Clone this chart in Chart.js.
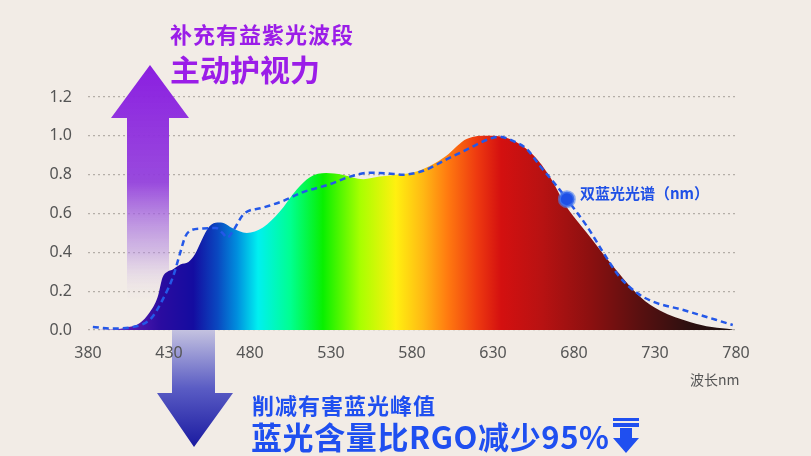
<!DOCTYPE html>
<html>
<head>
<meta charset="utf-8">
<script src="https://cdn.jsdelivr.net/npm/chart.js@4.4.1/dist/chart.umd.min.js"></script>
<style>
  body { margin: 0; background: #f2ece6; }
  #wrap { position: relative; width: 811px; height: 456px; overflow: hidden; background: #f2ece6; }
  #chart { position: absolute; left: 0; top: 0; }
  .txt { position: absolute; white-space: nowrap; font-family: "Noto Sans CJK SC", sans-serif; line-height: 1; }
  #t1 { left: 170px; top: 22px; font-size: 22px; color: #9b1de8; font-weight: 600; letter-spacing: 1px; }
  #t2 { left: 170px; top: 53px; font-size: 30px; color: #9b1de8; font-weight: 700; }
  #b1 { left: 252px; top: 393px; font-size: 22px; color: #1f4ff0; font-weight: 600; letter-spacing: 1px; }
  #b2 { left: 251px; top: 420px; font-size: 31px; color: #1f4ff0; font-weight: 700; letter-spacing: 0.6px; }
  #leg { left: 580px; top: 185px; font-size: 15px; color: #1f50e6; font-weight: 600; }
  #unit { left: 690px; top: 372px; font-size: 14px; color: #555; font-family: "Noto Sans CJK SC", "Noto Sans", sans-serif; }
  #icon { position: absolute; left: 612px; top: 417px; }
</style>
</head>
<body>
<div id="wrap">
  <canvas id="chart" width="811" height="456"></canvas>
  <div class="txt" id="t1">补充有益紫光波段</div>
  <div class="txt" id="t2">主动护视力</div>
  <div class="txt" id="b1">削减有害蓝光峰值</div>
  <div class="txt" id="b2">蓝光含量比RGO减少95%</div>
  <div class="txt" id="leg">双蓝光光谱（nm）</div>
  <div class="txt" id="unit">波长nm</div>
  <svg id="icon" width="28" height="37" viewBox="0 0 28 37">
    <rect x="1" y="1" width="26" height="3" fill="#1f4ff0"/>
    <rect x="1" y="6" width="26" height="4" fill="#1f4ff0"/>
    <polygon points="8,11 20,11 20,21 27,21 14,36 1,21 8,21" fill="#1f4ff0"/>
  </svg>
</div>
<script>
// x ticks / y ticks
const xTicks = [380, 430, 480, 530, 580, 630, 680, 730, 780];
const yTicks = [0.0, 0.2, 0.4, 0.6, 0.8, 1.0, 1.2];

// rainbow filled spectrum (wavelength nm, relative intensity)
const fillNm  = [385, 395, 405, 412, 418, 423, 426, 429, 432, 437, 442, 446, 450, 455, 460, 464, 469, 478, 488, 498, 509, 517, 527, 537, 550, 560, 570, 580, 591, 601, 614, 627, 640, 655, 665, 675, 688, 704, 721, 733, 752, 765, 778];
const fillVal = [0, 0.002, 0.015, 0.036, 0.09, 0.17, 0.27, 0.30, 0.31, 0.337, 0.35, 0.39, 0.46, 0.534, 0.554, 0.55, 0.525, 0.50, 0.528, 0.606, 0.725, 0.787, 0.808, 0.80, 0.777, 0.79, 0.80, 0.81, 0.845, 0.896, 0.985, 1.0, 0.985, 0.90, 0.79, 0.64, 0.50, 0.33, 0.17, 0.10, 0.04, 0.015, 0.003];

// dashed "双蓝光光谱" series
const dashNm  = [383, 394, 408, 419, 426, 432.5, 437, 440, 444, 451, 459, 463, 466, 469.5, 476, 488, 500, 512.7, 529, 541.7, 554, 564.6, 574.5, 587, 601.6, 614, 628, 634, 642, 651, 659, 669.5, 675.6, 688, 698, 708, 719, 729, 747, 778];
const dashVal = [0.016, 0.008, 0.016, 0.06, 0.155, 0.275, 0.40, 0.48, 0.515, 0.523, 0.525, 0.50, 0.476, 0.51, 0.596, 0.63, 0.663, 0.71, 0.75, 0.79, 0.81, 0.807, 0.80, 0.82, 0.88, 0.93, 0.985, 0.995, 0.975, 0.93, 0.845, 0.74, 0.674, 0.534, 0.40, 0.275, 0.19, 0.145, 0.104, 0.026];
const markerNm = 675.6;

// colour stops of the rainbow fill
const rainbow = [
  [385, '#8a50c8'], [405, '#5a1cb0'], [425, '#2a0ca0'], [445, '#140ca0'],
  [460, '#0a48c0'], [472, '#008ede'], [485, '#00f0f0'], [505, '#00ff90'],
  [525, '#08f000'], [548, '#a8ff00'], [570, '#fff010'], [587, '#ffb814'],
  [602, '#ff7a10'], [620, '#ee3a10'], [635, '#d41010'], [660, '#b81212'],
  [690, '#8c1010'], [720, '#5a1010'], [750, '#2e1010'], [780, '#1c1010']
];

function spectrumFill(ctx) {
  const chart = ctx.chart;
  const area = chart.chartArea;
  if (!area) return '#888';
  const x = chart.scales.x;
  const g = chart.ctx.createLinearGradient(x.getPixelForValue(380), 0, x.getPixelForValue(780), 0);
  rainbow.forEach(([nm, c]) => g.addColorStop((nm - 380) / 400, c));
  return g;
}

// decorative arrows, drawn over the grid but under the data
const arrows = {
  id: 'arrows',
  beforeDatasetsDraw(chart) {
    const c = chart.ctx;
    c.save();
    // up arrow
    let g = c.createLinearGradient(0, 65, 0, 300);
    g.addColorStop(0, '#8a1ee0');
    g.addColorStop(0.5, 'rgba(145,60,220,0.92)');
    g.addColorStop(0.8, 'rgba(180,140,225,0.5)');
    g.addColorStop(1, 'rgba(230,220,235,0)');
    c.fillStyle = g;
    c.beginPath();
    c.moveTo(150, 65);
    c.lineTo(189, 118);
    c.lineTo(169, 118);
    c.lineTo(169, 300);
    c.lineTo(127, 300);
    c.lineTo(127, 118);
    c.lineTo(111, 118);
    c.closePath();
    c.fill();
    // down arrow
    g = c.createLinearGradient(0, 330, 0, 447);
    g.addColorStop(0, '#c4c2e0');
    g.addColorStop(0.5, '#5a5cc4');
    g.addColorStop(1, '#1a1aa0');
    c.fillStyle = g;
    c.beginPath();
    c.moveTo(172, 330);
    c.lineTo(215, 330);
    c.lineTo(215, 393);
    c.lineTo(233, 393);
    c.lineTo(194, 447);
    c.lineTo(157, 393);
    c.lineTo(172, 393);
    c.closePath();
    c.fill();
    c.restore();
  }
};

new Chart(document.getElementById('chart'), {
  type: 'line',
  data: {
    datasets: [
      {
        data: dashNm.map((x, i) => ({ x, y: dashVal[i] })),
        borderColor: '#2458e8',
        borderWidth: 2.5,
        borderDash: [6, 4],
        fill: false,
        cubicInterpolationMode: 'monotone',
        pointRadius: ctx => dashNm[ctx.dataIndex] === markerNm ? 7.5 : 0,
        pointBackgroundColor: '#1f50e6',
        pointBorderColor: 'rgba(80,130,240,0.6)',
        pointBorderWidth: 3,
        order: 0
      },
      {
        data: fillNm.map((x, i) => ({ x, y: fillVal[i] })),
        borderWidth: 0,
        borderColor: 'rgba(0,0,0,0)',
        backgroundColor: spectrumFill,
        fill: 'origin',
        cubicInterpolationMode: 'monotone',
        pointRadius: 0,
        order: 1
      }
    ]
  },
  options: {
    responsive: false,
    animation: false,
    layout: { padding: { top: 97, right: 75, bottom: 86, left: 0 } },
    plugins: { legend: { display: false }, tooltip: { enabled: false } },
    scales: {
      x: {
        type: 'linear',
        min: 380, max: 780,
        afterBuildTicks: s => { s.ticks = xTicks.map(v => ({ value: v })); },
        afterFit: s => { s.height = 40; },
        grid: { display: false, drawTicks: false },
        border: { display: false },
        ticks: { z: 1, padding: 14, color: '#555', font: { family: 'Noto Sans', size: 16 } }
      },
      y: {
        min: 0, max: 1.2,
        afterBuildTicks: s => { s.ticks = yTicks.map(v => ({ value: v })); },
        afterFit: s => { s.width = 88; },
        grid: { color: '#b5aea8', lineWidth: 1.2, drawTicks: false },
        border: { display: false, dash: [2, 3] },
        ticks: { padding: 16, color: '#555', font: { family: 'Noto Sans', size: 16 }, callback: v => v.toFixed(1) }
      }
    }
  },
  plugins: [arrows]
});
</script>
</body>
</html>
